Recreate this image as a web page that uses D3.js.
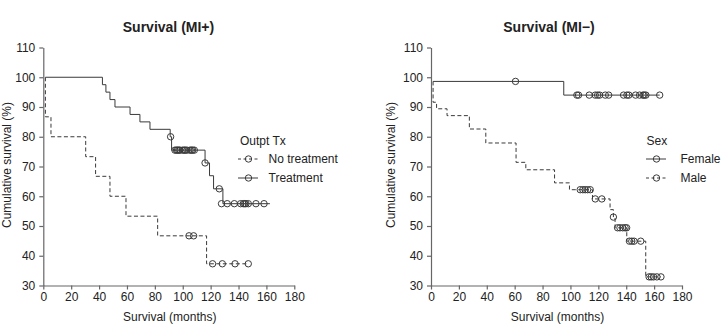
<!DOCTYPE html>
<html><head><meta charset="utf-8">
<script src="https://cdn.jsdelivr.net/npm/d3@7/dist/d3.min.js"></script>
<style>
html,body{margin:0;padding:0;background:#fff;}
svg text{font-family:"Liberation Sans",Arial,sans-serif;fill:#222;}
</style></head>
<body><svg id="c" width="722" height="326"></svg>
<script>
// ---------- data ----------
const xTicks = [0, 20, 40, 60, 80, 100, 120, 140, 160, 180];
const yTicks = [30, 40, 50, 60, 70, 80, 90, 100, 110];

// Left panel: Survival (MI+), legend "Outpt Tx"
const noTxTimes  = [1.5, 1.5, 5.5, 30.4, 37.5, 47.8, 59.3, 82, 117.1, 147];
const noTxValues = [100, 86.7, 80, 73.3, 66.7, 60, 53.3, 46.7, 37.3, 37.3];
const noTxCensorTimes  = [104.5, 107.8, 121.4, 128.4, 137.5, 147];
const noTxCensorValues = [46.7, 46.7, 37.3, 37.3, 37.3, 37.3];

const txTimes  = [1.5, 42.4, 44.9, 47.8, 51.4, 62.2, 69.3, 76.5, 91, 92, 116, 119.2, 122.1, 128.8, 162.5];
const txValues = [100, 97.5, 95, 92.5, 90, 87.5, 85, 82.5, 80, 75.5, 71.2, 66.9, 62.5, 57.5, 57.5];
const txCensorTimes  = [91.3, 94.4, 95.5, 96.3, 97.2, 98, 99.9, 101, 101.8, 103, 105.2, 106.2, 107.1, 108.3,
                        116, 126.2, 127.8, 131.9, 137, 141.5, 143.4, 144.4, 145.3, 147, 152.5, 158.3];
const txCensorValues = [80, 75.5, 75.5, 75.5, 75.5, 75.5, 75.5, 75.5, 75.5, 75.5, 75.5, 75.5, 75.5, 75.5,
                        71.2, 62.5, 57.5, 57.5, 57.5, 57.5, 57.5, 57.5, 57.5, 57.5, 57.5, 57.5];

// Right panel: Survival (MI−), legend "Sex"
const femaleTimes  = [1.5, 95.2, 164];
const femaleValues = [98.6, 94, 94];
const femaleCensorTimes  = [60.6, 104.6, 105.8, 113.5, 117.8, 119.5, 120.9, 125, 127.4, 138.1, 140.5, 141.9,
                            146.7, 149.6, 152, 152.9, 154.1, 164];
const femaleCensorValues = [98.6, 94, 94, 94, 94, 94, 94, 94, 94, 94, 94, 94, 94, 94, 94, 94, 94, 94];

const maleTimes  = [1.5, 1.5, 4, 11.5, 27.5, 39.3, 61, 68, 88.6, 99.3, 115.8, 128.4, 130.8, 132, 140.4, 154, 164.9];
const maleValues = [98.6, 91.6, 89.4, 87.1, 82.6, 77.9, 71.4, 68.9, 64.5, 62.2, 59.1, 55.5, 53, 49.4, 44.9, 32.9, 32.9];
const maleCensorTimes  = [107, 108.9, 110.6, 112.3, 114.2, 117.8, 122.5, 130.8, 133.8, 135.5, 137.5, 139.2, 140.3,
                          142.3, 144, 145.6, 150.4, 156.4, 157.9, 159.6, 162, 164.9];
const maleCensorValues = [62.2, 62.2, 62.2, 62.2, 62.2, 59.1, 59.1, 53, 49.4, 49.4, 49.4, 49.4, 49.4,
                          44.9, 44.9, 44.9, 44.9, 32.9, 32.9, 32.9, 32.9, 32.9];

// ---------- drawing ----------
const svg = d3.select("#c");
const lineColor = "#3a3a3a";
const axisColor = "#666";
const dash = "4,2.5";
const fs = "12px";

function zip(a, b) { return a.map((v, i) => [v, b[i]]); }

function panel(opt) {
  const x = d3.scaleLinear().domain([0, 180]).range([opt.x0, opt.x0 + 251]);
  const y = d3.scaleLinear().domain([30, 110]).range([285.5, 47.5]);
  const g = svg.append("g");

  const xa = g.append("g").attr("transform", `translate(0,${y(30)})`)
    .call(d3.axisBottom(x).tickValues(xTicks).tickSizeInner(4).tickSizeOuter(0).tickPadding(3));
  const ya = g.append("g").attr("transform", `translate(${x(0)},0)`)
    .call(d3.axisLeft(y).tickValues(yTicks).tickSizeInner(4).tickSizeOuter(0).tickPadding(4));
  [xa, ya].forEach(a => {
    a.selectAll("path,line").attr("stroke", axisColor).attr("stroke-width", 1.2);
    a.selectAll("text").style("font-size", fs).attr("fill", "#222");
  });

  const line = d3.line().x(d => x(d[0])).y(d => y(d[1])).curve(d3.curveStepAfter);
  opt.series.forEach(s => {
    g.append("path").datum(zip(s.t, s.v)).attr("d", line)
      .attr("fill", "none").attr("stroke", lineColor).attr("stroke-width", 1)
      .attr("stroke-dasharray", s.dashed ? dash : null);
    g.selectAll(null).data(zip(s.ct, s.cv)).enter().append("circle")
      .attr("cx", d => x(d[0])).attr("cy", d => y(d[1])).attr("r", 3.2)
      .attr("fill", "none").attr("stroke", lineColor).attr("stroke-width", 1);
  });

  g.append("text").attr("x", opt.titleX).attr("y", 31.5).attr("text-anchor", "middle")
    .style("font-size", "14px").style("font-weight", "bold").text(opt.title);
  g.append("text").attr("x", x(90) + 1).attr("y", 321).attr("text-anchor", "middle")
    .style("font-size", fs).text("Survival (months)");
  g.append("text").attr("transform", `translate(${opt.ylabX},165) rotate(-90)`)
    .attr("text-anchor", "middle").style("font-size", fs).text("Cumulative survival (%)");

  // legend
  const L = opt.legend;
  g.append("text").attr("x", L.x).attr("y", 145).style("font-size", fs).text(L.title);
  L.items.forEach((it, i) => {
    const cy = 159 + i * 19;
    g.append("line").attr("x1", L.lx).attr("x2", L.lx + 20).attr("y1", cy).attr("y2", cy)
      .attr("stroke", lineColor).attr("stroke-width", 1).attr("stroke-dasharray", it.dashed ? "3,2.5" : null);
    g.append("circle").attr("cx", L.lx + 10.5).attr("cy", cy).attr("r", 3.2)
      .attr("fill", "none").attr("stroke", lineColor);
    g.append("text").attr("x", L.tx).attr("y", cy + 4).style("font-size", fs).text(it.label);
  });
}

panel({
  x0: 43.3, titleX: 168.5, title: "Survival (MI+)", ylabX: 11,
  series: [
    {t: noTxTimes, v: noTxValues, ct: noTxCensorTimes, cv: noTxCensorValues, dashed: true},
    {t: txTimes, v: txValues, ct: txCensorTimes, cv: txCensorValues, dashed: false}
  ],
  legend: {x: 240, lx: 238, tx: 268.5, title: "Outpt Tx",
    items: [{label: "No treatment", dashed: true}, {label: "Treatment", dashed: false}]}
});

panel({
  x0: 431, titleX: 549, title: "Survival (MI\u2212)", ylabX: 395,
  series: [
    {t: femaleTimes, v: femaleValues, ct: femaleCensorTimes, cv: femaleCensorValues, dashed: false},
    {t: maleTimes, v: maleValues, ct: maleCensorTimes, cv: maleCensorValues, dashed: true}
  ],
  legend: {x: 646.5, lx: 646, tx: 680.5, title: "Sex",
    items: [{label: "Female", dashed: false}, {label: "Male", dashed: true}]}
});
</script></body></html>
